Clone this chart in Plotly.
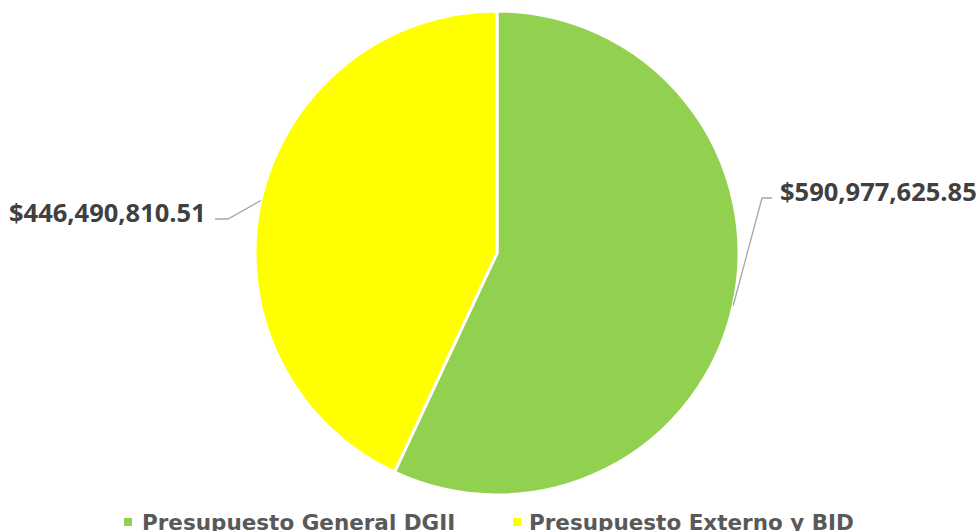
import math
import plotly.graph_objects as go

categories = ["Presupuesto General DGII", "Presupuesto Externo y BID"]
values = [590977625.85, 446490810.51]
colors = ["#92D050", "#FFFF00"]
value_labels = ["$590,977,625.85", "$446,490,810.51"]

W, H = 979, 531
CX, CY, R = 497, 253, 242  # pie centre / radius in pixels


def px(x):
    return x / W


def py(y):
    return 1 - y / H


fig = go.Figure()
fig.add_trace(go.Pie(
    labels=categories,
    values=values,
    marker=dict(colors=colors, line=dict(color="white", width=3)),
    sort=False,
    direction="clockwise",
    rotation=0,
    textinfo="none",
    hoverinfo="label+value+percent",
    showlegend=False,
    domain=dict(x=[px(CX - R), px(CX + R)], y=[py(CY + R), py(CY - R)]),
))

# label layout (elbow point, line end, text anchor) per slice
label_layout = [
    dict(elbow=(762, 198), end=(772, 198), text=(778, 191), anchor="left"),
    dict(elbow=(228, 219), end=(215, 219), text=(208, 212), anchor="right"),
]

total = sum(values)
start = 0.0
shapes = []
annotations = []
for v, lab, lay in zip(values, value_labels, label_layout):
    frac = v / total
    mid = (start + frac / 2) * 2 * math.pi
    start += frac
    sx = CX + R * math.sin(mid)
    sy = CY - R * math.cos(mid)
    ex, ey = lay["elbow"]
    tx, ty = lay["end"]
    shapes.append(dict(
        type="path", xref="paper", yref="paper",
        path=f"M{px(sx)},{py(sy)} L{px(ex)},{py(ey)} L{px(tx)},{py(ty)}",
        line=dict(color="#A6A6A6", width=1.3),
    ))
    annotations.append(dict(
        x=px(lay["text"][0]), y=py(lay["text"][1]), xref="paper", yref="paper",
        text=lab, showarrow=False,
        xanchor=lay["anchor"], yanchor="middle",
        font=dict(family="Open Sans", size=25.5, color="#404040", weight="bold"),
    ))

# legend (custom)
legend_pos = [(128, 140), (517, 527)]
LY = 522
for cat, col, (mx, tx) in zip(categories, colors, legend_pos):
    shapes.append(dict(
        type="rect", xref="paper", yref="paper",
        x0=px(mx - 4), x1=px(mx + 4), y0=py(LY + 4), y1=py(LY - 4),
        fillcolor=col, line=dict(width=0),
    ))
    annotations.append(dict(
        x=px(tx), y=py(LY), xref="paper", yref="paper",
        text=cat, showarrow=False, xanchor="left", yanchor="middle",
        font=dict(family="DejaVu Sans", size=21.5, color="#595959", weight="bold"),
    ))

fig.update_layout(
    width=W, height=H,
    margin=dict(l=0, r=0, t=0, b=0),
    paper_bgcolor="white", plot_bgcolor="white",
    shapes=shapes, annotations=annotations,
    showlegend=False,
)

fig.write_html(
    "out.html",
    config={"displayModeBar": False},
    post_script="document.body.style.margin='0';document.body.style.overflow='hidden';",
)
